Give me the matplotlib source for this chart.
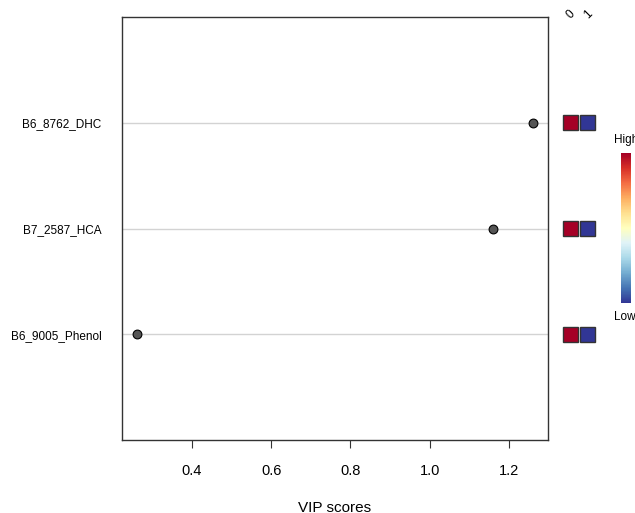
import matplotlib
matplotlib.use("Agg")
import matplotlib.pyplot as plt
from matplotlib.patches import Rectangle
import matplotlib as mpl
import numpy as np

plt.rcParams['font.family'] = ['Liberation Sans', 'DejaVu Sans']

# data
features = ['B6_9005_Phenol', 'B7_2587_HCA', 'B6_8762_DHC']
vip_scores = [0.261, 1.160, 1.260]
groups = ['0', '1']
# relative abundance per group (1 = high, 0 = low)
group_levels = [[1.0, 0.0], [1.0, 0.0], [1.0, 0.0]]

W, H = 635, 513
fig = plt.figure(figsize=(W / 100, H / 100), dpi=100)

def px(x0, y0, x1, y1):
    return [x0 / W, 1 - y1 / H, (x1 - x0) / W, (y1 - y0) / H]

ax = fig.add_axes(px(122, 17, 548, 440))
ypos = np.arange(1, len(features) + 1)
for y in ypos:
    ax.axhline(y, color='#d3d3d3', lw=1, zorder=1)
ax.scatter(vip_scores, ypos, s=40, facecolor='#555555', edgecolor='black', lw=0.8, zorder=3)
ax.set_xlim(0.2234, 1.2984)
ax.set_ylim(0, 4)
ax.set_xticks([0.4, 0.6, 0.8, 1.0, 1.2])
ax.set_xticklabels(['0.4', '0.6', '0.8', '1.0', '1.2'], fontsize=10.5)
ax.tick_params(axis='x', length=6, pad=11, color='#333333')
ax.set_yticks(ypos)
ax.set_yticklabels(features, fontsize=8.5)
ax.tick_params(axis='y', length=0, pad=14.8)
for s in ax.spines.values():
    s.set_color('#333333')
    s.set_linewidth(1)
ax.set_xlabel('VIP scores', fontsize=11, labelpad=17)

# group heatmap boxes
ax2 = fig.add_axes(px(555, 17, 605, 440))
ax2.set_xlim(0, 50)
ax2.set_ylim(0, 4)
ax2.axis('off')
cmap = plt.get_cmap('RdYlBu_r')
for i, y in enumerate(ypos):
    for j, g in enumerate(groups):
        x0 = 7.5 + j * 17.5
        ax2.add_patch(Rectangle((x0, y - 0.072), 15, 0.144,
                                facecolor=cmap(group_levels[i][j]), edgecolor='#333333', lw=1))
for j, g in enumerate(groups):
    fig.text((571 + j * 17) / W, 1 - 15 / H, g, rotation=45, ha='center', va='center', fontsize=8.5)

# colour key
cax = fig.add_axes(px(621, 153, 631, 303))
cb = mpl.colorbar.ColorbarBase(cax, cmap=cmap, orientation='vertical')
cb.outline.set_visible(False)
cb.set_ticks([])
fig.text(614 / W, 1 - 140 / H, 'High', ha='left', va='center', fontsize=8.5)
fig.text(614 / W, 1 - 317 / H, 'Low', ha='left', va='center', fontsize=8.5)

fig.savefig('out.png', dpi=100)
